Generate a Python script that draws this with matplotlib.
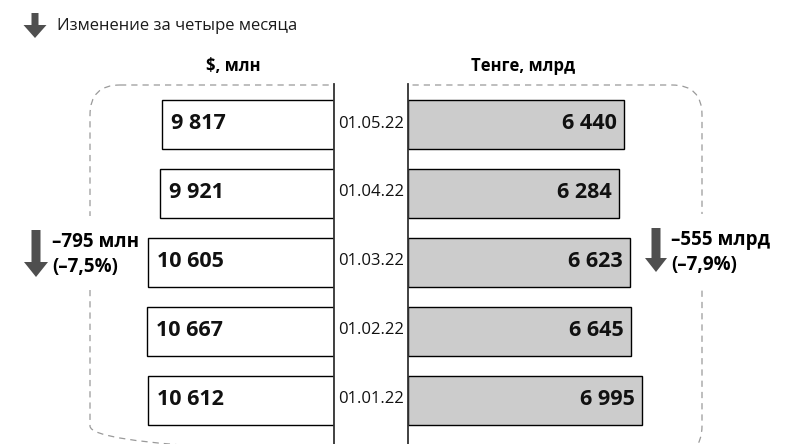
import matplotlib
matplotlib.use('Agg')
import matplotlib.pyplot as plt
from matplotlib.patches import FancyBboxPatch, Rectangle

plt.rcParams['font.family'] = ['Open Sans', 'DejaVu Sans']

# данные
dates = ['01.05.22', '01.04.22', '01.03.22', '01.02.22', '01.01.22']
usd_mln = [9817, 9921, 10605, 10667, 10612]
kzt_mlrd = [6440, 6284, 6623, 6645, 6995]
usd_labels = ['9 817', '9 921', '10 605', '10 667', '10 612']
kzt_labels = ['6 440', '6 284', '6 623', '6 645', '6 995']
usd_change = ['–795 млн', '(–7,5%)']
kzt_change = ['–555 млрд', '(–7,9%)']

W, H = 785, 444
fig = plt.figure(figsize=(W / 100, H / 100), dpi=100)

# фон в пикселях: рамка, заголовки, стрелки
bg = fig.add_axes([0, 0, 1, 1])
bg.set_xlim(0, W)
bg.set_ylim(H, 0)
bg.axis('off')

frame = FancyBboxPatch((90, 85), 612, 371, boxstyle='round,pad=0,rounding_size=30',
                       facecolor='none', edgecolor='#9a9a9a', linewidth=0.9,
                       linestyle=(0, (5, 4)), zorder=1)
bg.add_patch(frame)
bg.add_patch(Rectangle((335, 78), 72, 370, facecolor='white', edgecolor='none', zorder=2))
bg.add_patch(Rectangle((52, 216), 90, 74, facecolor='white', edgecolor='none', zorder=2))
bg.add_patch(Rectangle((668, 214), 110, 76, facecolor='white', edgecolor='none', zorder=2))


def down_arrow(x, top, head, tip, shaft=8, width=24):
    xs = [x - shaft / 2, x + shaft / 2, x + shaft / 2, x + width / 2, x,
          x - width / 2, x - shaft / 2]
    ys = [top, top, head, head, tip, head, head]
    bg.fill(xs, ys, color='#4f4f4f', zorder=3, linewidth=0)


# легенда
down_arrow(35, 13, 25, 38, shaft=7, width=23)
bg.text(57, 26, 'Изменение за четыре месяца', fontsize=12, color='#1a1a1a',
        ha='left', va='center')

bg.text(233, 66, '$, млн', fontsize=12, fontweight='bold', ha='center', va='center')
bg.text(523, 66, 'Тенге, млрд', fontsize=12, fontweight='bold', ha='center', va='center')

down_arrow(36, 230, 262, 277, shaft=9, width=24)
bg.text(52, 242, usd_change[0], fontsize=13.5, fontweight='bold', ha='left', va='center', zorder=3)
bg.text(52, 267, usd_change[1], fontsize=13.5, fontweight='bold', ha='left', va='center', zorder=3)

down_arrow(656, 228, 258, 272, shaft=9, width=22)
bg.text(671, 240, kzt_change[0], fontsize=13.5, fontweight='bold', ha='left', va='center', zorder=3)
bg.text(671, 265, kzt_change[1], fontsize=13.5, fontweight='bold', ha='left', va='center', zorder=3)

# оси со столбиками
row_px = 68.9
ax_top = 84
ax_h = (H - ax_top) / H
units_h = (H - ax_top) / row_px
first = (124.5 - ax_top) / row_px
ylim = (units_h - first, -first)
bar_h = 49 / row_px
rows = list(range(len(dates)))

axl = fig.add_axes([90 / W, 0, (334 - 90) / W, ax_h])
axl.set_facecolor('none')
axl.barh(rows, usd_mln, height=bar_h, color='white', edgecolor='black', linewidth=1.0)
axl.set_xlim((334 - 90) / 0.01753, 0)
axl.set_ylim(*ylim)

axr = fig.add_axes([408 / W, 0, (702 - 408) / W, ax_h])
axr.set_facecolor('none')
axr.barh(rows, kzt_mlrd, height=bar_h, color='#cccccc', edgecolor='black', linewidth=1.0)
axr.set_xlim(0, (702 - 408) / 0.0335)
axr.set_ylim(*ylim)

for ax, side in ((axl, 'right'), (axr, 'left')):
    for s in ax.spines:
        ax.spines[s].set_visible(s == side)
    ax.spines[side].set_color('#333333')
    ax.spines[side].set_linewidth(1.3)
    ax.set_xticks([])
    ax.set_yticks([])

for i in rows:
    axl.annotate(usd_labels[i], xy=(usd_mln[i], i), xytext=(9, 1), textcoords='offset pixels',
                 ha='left', va='center', fontsize=15.5, fontweight='bold', color='#111111')
    axr.annotate(kzt_labels[i], xy=(kzt_mlrd[i], i), xytext=(-7, 1), textcoords='offset pixels',
                 ha='right', va='center', fontsize=15.5, fontweight='bold', color='#111111')
    axr.annotate(dates[i], xy=(0, i), xytext=(-37, 1), textcoords='offset pixels',
                 ha='center', va='center', fontsize=12, color='#111111')

fig.savefig('out.png', dpi=100)
